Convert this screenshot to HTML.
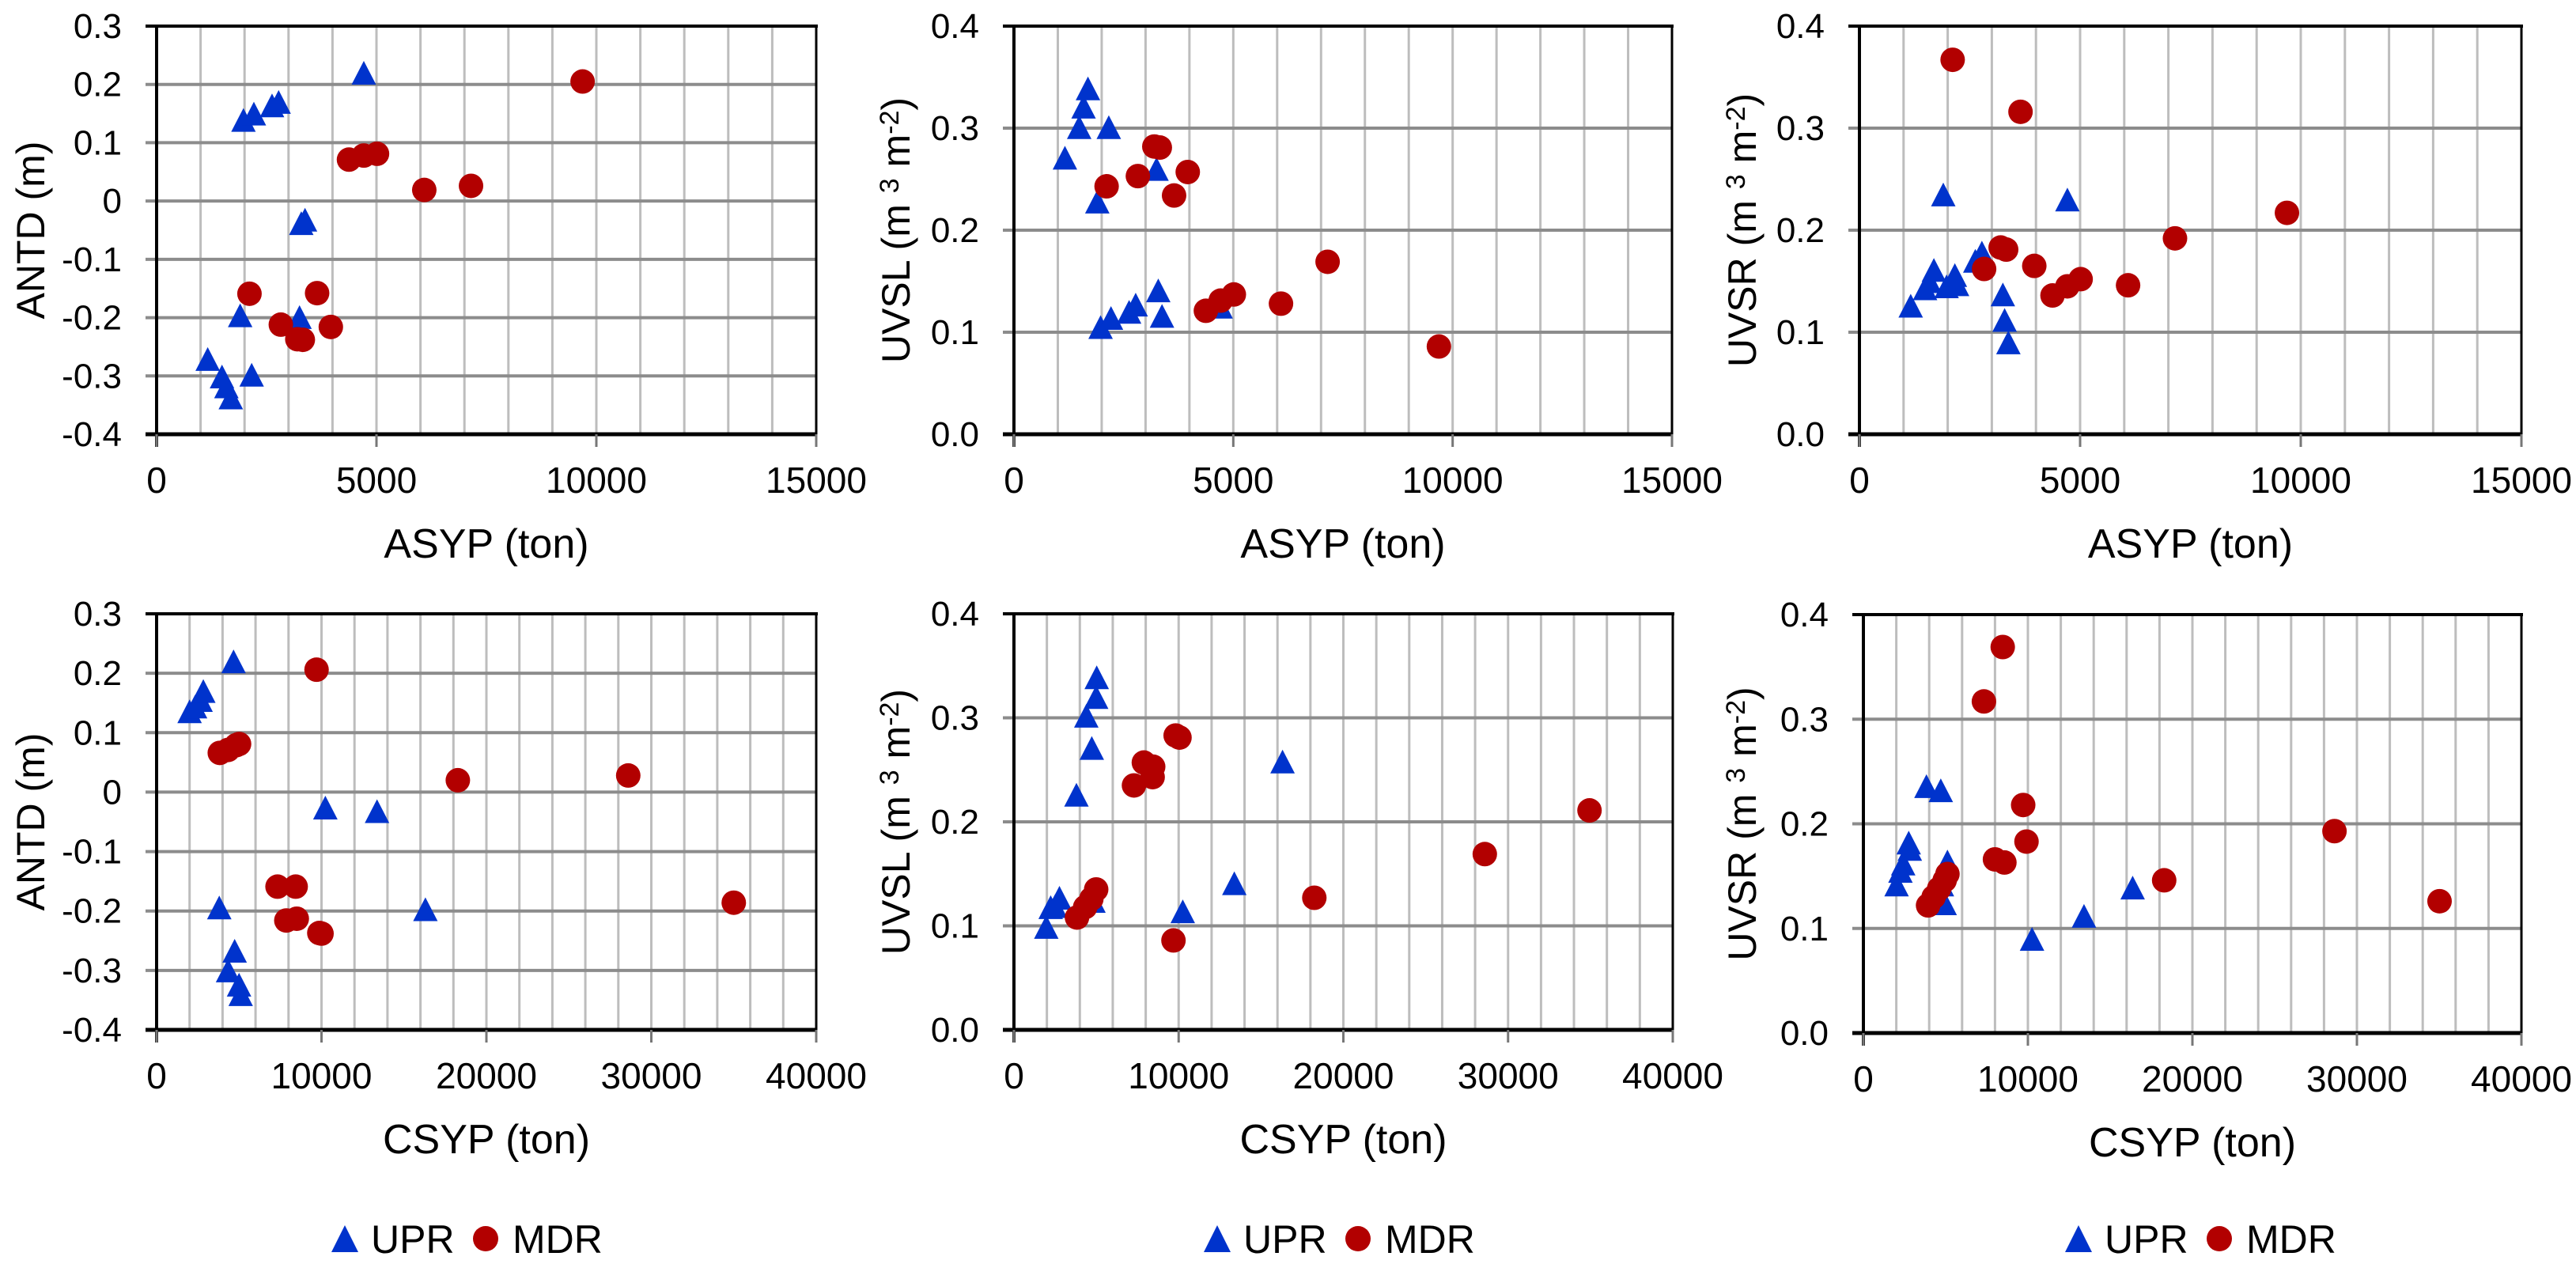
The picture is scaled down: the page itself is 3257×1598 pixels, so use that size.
<!DOCTYPE html>
<html><head><meta charset="utf-8"><style>
html,body{margin:0;padding:0;background:#fff;}
svg{display:block;}
</style></head><body>
<svg id="fig" xmlns="http://www.w3.org/2000/svg" width="3257" height="1598" viewBox="0 0 3257 1598"></svg>
<script>
// ---- Data ----
const asypUprX = [1162,1487,1587,1687,1900,1975,2162,2212,2625,2775,3250,3290,3375,4712];
const antdUprA = [-0.271,-0.301,-0.318,-0.337,-0.196,0.139,-0.298,0.150,0.164,0.170,-0.199,-0.038,-0.032,0.220];
const uvslUprA = [0.271,0.301,0.321,0.339,0.228,0.105,0.301,0.114,0.120,0.127,0.260,0.141,0.116,0.125];
const uvsrUprA = [0.126,0.143,0.150,0.161,0.235,0.145,0.156,0.147,0.170,0.178,0.137,0.112,0.090,0.230];
const asypMdrX = [2112,2825,3200,3325,3650,3962,4375,4712,5012,6087,7150,9687];
const antdMdrA = [-0.159,-0.212,-0.237,-0.238,-0.158,-0.216,0.071,0.078,0.081,0.019,0.026,0.205];
const uvslMdrA = [0.243,0.253,0.282,0.281,0.234,0.257,0.121,0.131,0.137,0.128,0.169,0.086];
const uvsrMdrA = [0.367,0.162,0.183,0.181,0.316,0.165,0.136,0.145,0.152,0.146,0.192,0.217];

const csypUprX4 = [4667,2000,2333,2667,2833,10233,13367,3800,16300,4733,4333,5000,5100];
const antdUprC = [0.220,0.136,0.144,0.155,0.170,-0.026,-0.032,-0.194,-0.197,-0.267,-0.300,-0.324,-0.340];
const csypMdrX4 = [9700,3833,4333,4833,5000,18267,28600,35000,7333,8433,7867,8500,9867,10000];
const antdMdrC = [0.206,0.066,0.071,0.079,0.081,0.020,0.028,-0.186,-0.159,-0.159,-0.216,-0.213,-0.237,-0.238];

const csypUprX5 = [5025,4992,4393,4726,3794,16307,13379,10250,1963,2230,2762,2496,4826];
const uvslUprC = [0.339,0.320,0.302,0.271,0.226,0.258,0.141,0.114,0.099,0.118,0.127,0.119,0.124];
const csypMdrX5 = [9818,10050,7887,8453,8420,7288,34944,28587,18237,9685,3827,4326,4700,4992];
const uvslMdrC = [0.283,0.281,0.257,0.253,0.243,0.235,0.211,0.169,0.127,0.086,0.108,0.118,0.126,0.135];

const csypUprX6 = [3832,4705,2756,2823,2420,2252,2017,5109,4941,4773,4941,16368,13410,10251];
const uvsrUprC = [0.236,0.232,0.182,0.176,0.162,0.155,0.142,0.164,0.155,0.142,0.124,0.139,0.112,0.090];
const csypMdrX6 = [8470,7327,9713,9915,28636,7999,8571,18284,35023,3932,4269,4605,4941,5109];
const uvsrMdrC = [0.369,0.317,0.218,0.183,0.193,0.166,0.163,0.146,0.126,0.122,0.130,0.138,0.146,0.152];

const yTicksAntd = ["0.3","0.2","0.1","0","-0.1","-0.2","-0.3","-0.4"];
const yTicksUv = ["0.4","0.3","0.2","0.1","0.0"];
const xTicksA = ["0","5000","10000","15000"];
const xTicksC = ["0","10000","20000","30000","40000"];

const NS = "http://www.w3.org/2000/svg";
const svg = document.getElementById('fig');
function mk(tag, attrs, parent){
  const e = document.createElementNS(NS, tag);
  for (const k in attrs) e.setAttribute(k, attrs[k]);
  (parent||svg).appendChild(e);
  return e;
}
const BLUE = "#0033CC", RED = "#B20000";
const NARROW = '"Liberation Sans Narrow","Liberation Sans",sans-serif';

function panel(cfg){
  const g = mk('g', {});
  
  
  const L=cfg.L,R=cfg.R,T=cfg.T,B=cfg.B;
  const sx = v => L + (v - cfg.xmin)/(cfg.xmax - cfg.xmin)*(R-L);
  const sy = v => B - (v - cfg.ymin)/(cfg.ymax - cfg.ymin)*(B-T);
  // minor vertical gridlines
  for (let v = cfg.xmin + cfg.xminor; v <= cfg.xmax + 1e-9; v += cfg.xminor){
    const l = mk('line', {x1:sx(v),x2:sx(v),y1:T,y2:B,stroke:"#BDBDBD","stroke-width":3}, g);
    
    
  }
  // horizontal major gridlines
  const nY = cfg.yTicks.length;
  for (let i=0;i<nY;i++){
    const v = cfg.ymax - i*(cfg.ymax-cfg.ymin)/(nY-1);
    const y = sy(v);
    if (i>0 && i<nY-1){
      const l = mk('line', {x1:L-14,x2:R,y1:y,y2:y,stroke:"#8C8C8C","stroke-width":4}, g);
      
      
    } else {
      mk('line', {x1:L-14,x2:L,y1:y,y2:y,stroke:"#8C8C8C","stroke-width":4}, g);
    }
    const t = mk('text', {x:L-44,y:y+15,"text-anchor":"end","font-family":NARROW,"font-size":44,fill:"#000"}, g);
    t.textContent = cfg.yTicks[i];
    
    
  }
  // border top/right
  mk('line',{x1:L-14,x2:R+2,y1:T,y2:T,stroke:"#000","stroke-width":4},g);
  mk('line',{x1:R,x2:R,y1:T,y2:B+16,stroke:"#000","stroke-width":3},g);
  // axes
  const ya = mk('line',{x1:L,x2:L,y1:T,y2:B+16,stroke:"#000","stroke-width":4},g);
  
  
  const xa = mk('line',{x1:L-14,x2:R,y1:B,y2:B,stroke:"#000","stroke-width":5},g);
  
  
  const nX = cfg.xTicks.length;
  for (let i=0;i<nX;i++){
    const v = cfg.xmin + i*(cfg.xmax-cfg.xmin)/(nX-1);
    const x = sx(v);
    mk('line',{x1:x,x2:x,y1:B,y2:B+16,stroke:"#777","stroke-width":3},g);
    const t = mk('text',{x:x,y:B+74,"text-anchor":"middle","font-family":NARROW,"font-size":46,fill:"#000"},g);
    t.textContent = cfg.xTicks[i];
    
    
  }
  // titles
  const xt = mk('text',{x:(L+R)/2,y:B+156,"text-anchor":"middle","font-family":NARROW,"font-size":52,fill:"#000"},g);
  xt.textContent = cfg.xTitle;
  
  
  const yt = mk('text',{transform:`translate(${cfg.ytx},${(T+B)/2}) rotate(-90)`,"text-anchor":"middle","font-family":'"Liberation Sans",sans-serif',"font-size":50,fill:"#000"},g);
  
  
  if (cfg.yUnit){
    const a = mk('tspan',{},yt); a.textContent = cfg.yTitle + " (m ";
    const b = mk('tspan',{"font-size":34,dy:-14},yt); b.textContent = "3";
    const c = mk('tspan',{dy:14},yt); c.textContent = " m";
    const d = mk('tspan',{"font-size":34,dy:-14},yt); d.textContent = "-2";
    const e = mk('tspan',{dy:14},yt); e.textContent = ")";
  } else {
    yt.textContent = cfg.yTitle;
  }
  // series
  cfg.uprX.forEach((xv,i)=>{
    const cx = sx(xv), cy = sy(cfg.uprY[i]);
    const p = mk('polygon',{points:`${cx},${cy-15} ${cx+15.5},${cy+15} ${cx-15.5},${cy+15}`,fill:BLUE},g);
    
    
  });
  cfg.mdrX.forEach((xv,i)=>{
    const c = mk('circle',{cx:sx(xv),cy:sy(cfg.mdrY[i]),r:15.5,fill:RED},g);
    
    
  });
  // legend
  if (cfg.leg){
    const lg = mk('g',{},g);
    
    
    const ly = 1566, lx = cfg.leg;
    const tri = mk('polygon',{points:`${lx},${ly-17} ${lx+17},${ly+17} ${lx-17},${ly+17}`,fill:BLUE},lg);
    
    
    const t1 = mk('text',{x:lx+33,y:ly+18,"font-family":NARROW,"font-size":50,fill:"#000"},lg);
    t1.textContent = "UPR";
    
    
    const c1 = mk('circle',{cx:lx+178,cy:ly,r:16,fill:RED},lg);
    
    
    const t2 = mk('text',{x:lx+212,y:ly+18,"font-family":NARROW,"font-size":50,fill:"#000"},lg);
    t2.textContent = "MDR";
    
    
  }
}

panel({name:'panel-antd-asyp',L:198,R:1032,T:33,B:549,xmin:0,xmax:15000,xminor:1000,ymin:-0.4,ymax:0.3,yTicks:yTicksAntd,xTicks:xTicksA,xTitle:"ASYP (ton)",yTitle:"ANTD (m)",ytx:56,uprX:asypUprX,uprY:antdUprA,mdrX:asypMdrX,mdrY:antdMdrA});
panel({name:'panel-uvsl-asyp',L:1282,R:2114,T:33,B:549,xmin:0,xmax:15000,xminor:1000,ymin:0,ymax:0.4,yTicks:yTicksUv,xTicks:xTicksA,xTitle:"ASYP (ton)",yTitle:"UVSL",yUnit:true,ytx:1150,uprX:asypUprX,uprY:uvslUprA,mdrX:asypMdrX,mdrY:uvslMdrA});
panel({name:'panel-uvsr-asyp',L:2351,R:3188,T:33,B:549,xmin:0,xmax:15000,xminor:1000,ymin:0,ymax:0.4,yTicks:yTicksUv,xTicks:xTicksA,xTitle:"ASYP (ton)",yTitle:"UVSR",yUnit:true,ytx:2220,uprX:asypUprX,uprY:uvsrUprA,mdrX:asypMdrX,mdrY:uvsrMdrA});
panel({name:'panel-antd-csyp',L:198,R:1032,T:776,B:1302,xmin:0,xmax:40000,xminor:2000,ymin:-0.4,ymax:0.3,yTicks:yTicksAntd,xTicks:xTicksC,xTitle:"CSYP (ton)",yTitle:"ANTD (m)",ytx:56,uprX:csypUprX4,uprY:antdUprC,mdrX:csypMdrX4,mdrY:antdMdrC,leg:436});
panel({name:'panel-uvsl-csyp',L:1282,R:2115,T:776,B:1302,xmin:0,xmax:40000,xminor:2000,ymin:0,ymax:0.4,yTicks:yTicksUv,xTicks:xTicksC,xTitle:"CSYP (ton)",yTitle:"UVSL",yUnit:true,ytx:1150,uprX:csypUprX5,uprY:uvslUprC,mdrX:csypMdrX5,mdrY:uvslMdrC,leg:1539});
panel({name:'panel-uvsr-csyp',L:2356,R:3188,T:777,B:1306,xmin:0,xmax:40000,xminor:2000,ymin:0,ymax:0.4,yTicks:yTicksUv,xTicks:xTicksC,xTitle:"CSYP (ton)",yTitle:"UVSR",yUnit:true,ytx:2220,uprX:csypUprX6,uprY:uvsrUprC,mdrX:csypMdrX6,mdrY:uvsrMdrC,leg:2628});
</script>
</body></html>
